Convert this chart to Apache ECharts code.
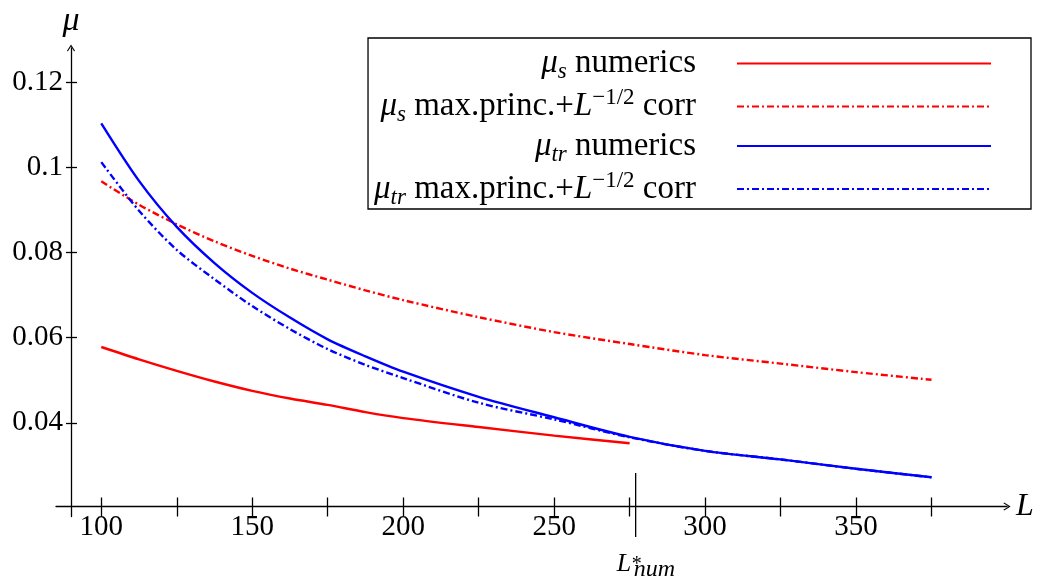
<!DOCTYPE html>
<html>
<head>
<meta charset="utf-8">
<script src="https://cdn.jsdelivr.net/npm/echarts@6/dist/echarts.min.js"></script>
<style>
html, body { margin: 0; padding: 0; background: #fff; }
#chart { width: 1041px; height: 584px; }
</style>
</head>
<body>
<div id="chart"></div>
<script>
// L values
const L = [100, 112.5, 125, 137.5, 150, 162.5, 175, 187.5, 200, 225, 250, 275, 300, 325, 350, 375]
const muSNum = [0.0578, 0.0549, 0.0522, 0.0497, 0.0475, 0.0457, 0.0442, 0.0425, 0.0411, 0.0390, 0.0370, 0.0352]
const muSMax = [0.0967, 0.0912, 0.0866, 0.0826, 0.0792, 0.0762, 0.0736, 0.0711, 0.0688, 0.0648, 0.0613, 0.0585, 0.0559, 0.0539, 0.0519, 0.0501]
const muTrNum = [0.1103, 0.0968, 0.0860, 0.0775, 0.0705, 0.0647, 0.0596, 0.0556, 0.0520, 0.0461, 0.0413, 0.0367, 0.0334, 0.0314, 0.0292, 0.0272]
const muTrMax = [0.1012, 0.0898, 0.0806, 0.0737, 0.0674, 0.0620, 0.0573, 0.0536, 0.0505, 0.0447, 0.0408, 0.0366, 0.0334, 0.0314, 0.0292, 0.0272]

const xTicks = [100, 125, 150, 175, 200, 225, 250, 275, 300, 325, 350, 375]
const xLabels = [100, 150, 200, 250, 300, 350]
const yTicks = [0.04, 0.06, 0.08, 0.1, 0.12]

const Lstar = 277
const LstarTop = 0.0282
const LstarBottom = 0.0132

const serif = 'Liberation Serif'
const arrow = 'path://M5,0 L10,8 L9,9 L5,2.5 L1,9 L0,8 Z'
const dashDot = [7, 3, 2, 3]

function pairs(ys) {
  return ys.map((y, i) => [L[i], y])
}

const legendText = {
  sNum: '{m|μ}{sub|s}{t| numerics}',
  sMax: '{m|μ}{sub|s}{t| max.princ.+}{m|L}{sup|−1/2}{t| corr}',
  trNum: '{m|μ}{sub|tr}{t| numerics}',
  trMax: '{m|μ}{sub|tr}{t| max.princ.+}{m|L}{sup|−1/2}{t| corr}'
}

const chart = echarts.init(document.getElementById('chart'))

const xBase = {
  type: 'value',
  min: 85,
  max: 400,
  position: 'bottom',
  offset: -10,
  splitLine: { show: false }
}
const yBase = {
  type: 'value',
  min: 0.018,
  max: 0.128,
  position: 'left',
  offset: -15,
  splitLine: { show: false }
}

var option = {
  animation: false,
  grid: { left: 56, right: 34, top: 48, bottom: 67.5 },
  xAxis: [
    Object.assign({}, xBase, {
      name: 'L',
      nameLocation: 'end',
      nameGap: 9,
      nameTextStyle: { fontFamily: serif, fontStyle: 'italic', fontSize: 32, color: '#000' },
      axisLine: { show: true, onZero: false, symbol: ['none', arrow], symbolSize: [8, 8], lineStyle: { color: '#000', width: 1.3 } },
      axisTick: { show: true, customValues: xTicks, length: 10, lineStyle: { color: '#000', width: 1.3 } },
      axisLabel: { customValues: xLabels, margin: 6, fontFamily: serif, fontSize: 29, color: '#000' }
    }),
    Object.assign({}, xBase, {
      axisLine: { show: false, onZero: false },
      axisTick: { show: true, inside: true, customValues: xTicks, length: 9, lineStyle: { color: '#000', width: 1.3 } },
      axisLabel: { show: false }
    })
  ],
  yAxis: [
    Object.assign({}, yBase, {
      name: 'μ',
      nameLocation: 'end',
      nameGap: 10,
      nameTextStyle: { fontFamily: serif, fontStyle: 'italic', fontSize: 34, color: '#000' },
      axisLine: { show: true, onZero: false, symbol: ['none', arrow], symbolSize: [8, 8], lineStyle: { color: '#000', width: 1.3 } },
      axisTick: { show: true, customValues: yTicks, length: 5, lineStyle: { color: '#000', width: 1.3 } },
      axisLabel: { customValues: yTicks, margin: 8, fontFamily: serif, fontSize: 29, color: '#000' }
    }),
    Object.assign({}, yBase, {
      axisLine: { show: false, onZero: false },
      axisTick: { show: true, inside: true, customValues: yTicks, length: 6, lineStyle: { color: '#000', width: 1.3 } },
      axisLabel: { show: false }
    })
  ],
  legend: {
    orient: 'vertical',
    right: 10,
    top: 38,
    align: 'right',
    selectedMode: false,
    itemWidth: 254,
    itemHeight: 12,
    itemGap: 3,
    padding: [9, 39, 0, 6],
    borderColor: '#000',
    borderWidth: 1.3,
    borderRadius: 0,
    itemStyle: { opacity: 0 },
    formatter: name => legendText[name],
    textStyle: {
      fontFamily: serif,
      fontSize: 33,
      color: '#000',
      padding: [0, 36, 0, 0],
      rich: {
        m: { fontFamily: serif, fontStyle: 'italic', fontSize: 33, lineHeight: 40, color: '#000' },
        t: { fontFamily: serif, fontSize: 33, lineHeight: 40, color: '#000' },
        sub: { fontFamily: serif, fontStyle: 'italic', fontSize: 23, lineHeight: 16, verticalAlign: 'bottom', color: '#000' },
        sup: { fontFamily: serif, fontSize: 23, lineHeight: 22, verticalAlign: 'top', color: '#000' }
      }
    },
    data: ['sNum', 'sMax', 'trNum', 'trMax']
  },
  series: [
    { name: 'sNum', type: 'line', data: pairs(muSNum), smooth: 0.3, showSymbol: false, symbol: 'none', color: '#ff0000', lineStyle: { color: '#ff0000', width: 2.4 } },
    { name: 'sMax', type: 'line', data: pairs(muSMax), smooth: 0.3, showSymbol: false, symbol: 'none', color: '#ff0000', lineStyle: { color: '#ff0000', width: 2.4, type: dashDot } },
    { name: 'trNum', type: 'line', data: pairs(muTrNum), smooth: 0.3, showSymbol: false, symbol: 'none', color: '#0000ff', lineStyle: { color: '#0000ff', width: 2.4 } },
    { name: 'trMax', type: 'line', data: pairs(muTrMax), smooth: 0.3, showSymbol: false, symbol: 'none', color: '#0000ff', lineStyle: { color: '#0000ff', width: 2.4, type: dashDot } }
  ]
}
chart.setOption(option)

// marker for L*_num below the axis
const px = chart.convertToPixel({ xAxisIndex: 0 }, Lstar)
const pyTop = chart.convertToPixel({ yAxisIndex: 0 }, LstarTop)
const pyBot = chart.convertToPixel({ yAxisIndex: 0 }, LstarBottom)
chart.setOption({
  graphic: [
    { type: 'line', shape: { x1: px, y1: pyTop, x2: px, y2: pyBot }, style: { stroke: '#000', lineWidth: 1.3 } },
    { type: 'text', x: px - 19, y: pyBot + 27, style: { text: 'L', fontFamily: serif, fontStyle: 'italic', fontSize: 26, fill: '#000', verticalAlign: 'middle' } },
    { type: 'text', x: px - 4, y: pyBot + 28, style: { text: '*', fontFamily: serif, fontSize: 20, fill: '#000', verticalAlign: 'middle' } },
    { type: 'text', x: px - 2, y: pyBot + 33, style: { text: 'num', fontFamily: serif, fontStyle: 'italic', fontSize: 24, fill: '#000', verticalAlign: 'middle' } }
  ]
})
</script>
</body>
</html>
